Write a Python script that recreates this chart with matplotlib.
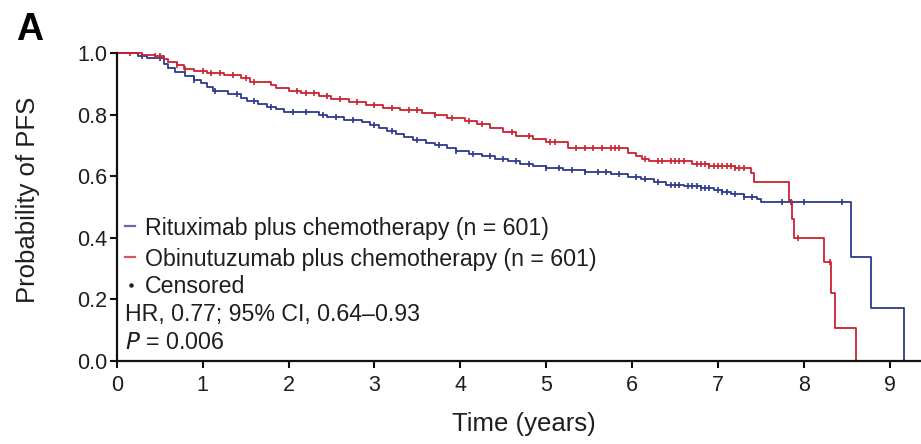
import numpy as np
import matplotlib
matplotlib.use("Agg")
import matplotlib.pyplot as plt

plt.rcParams["font.family"] = ["Liberation Sans", "DejaVu Sans"]

# Kaplan-Meier step knots: time (years) and survival after each drop
rit_time = [0, 0.25, 0.35, 0.55, 0.6, 0.68, 0.8, 0.9, 0.98, 1.05, 1.12, 1.3, 1.45,
            1.52, 1.65, 1.75, 1.85, 1.95, 2.35, 2.45, 2.65, 2.85, 2.95, 3.05, 3.15,
            3.25, 3.35, 3.45, 3.6, 3.7, 3.85, 3.95, 4.1, 4.25, 4.4, 4.55, 4.7, 4.85,
            5.0, 5.2, 5.45, 5.75, 5.95, 6.1, 6.25, 6.4, 6.6, 6.8, 6.95, 7.05, 7.15,
            7.3, 7.45, 7.5, 8.55, 8.78, 9.17]
rit_surv = [1.0, 0.99, 0.984, 0.965, 0.951, 0.939, 0.925, 0.912, 0.902, 0.89, 0.876,
            0.866, 0.855, 0.845, 0.835, 0.826, 0.817, 0.809, 0.800, 0.793, 0.784,
            0.775, 0.766, 0.758, 0.748, 0.738, 0.726, 0.717, 0.708, 0.700, 0.690,
            0.681, 0.673, 0.665, 0.656, 0.648, 0.640, 0.632, 0.627, 0.620, 0.613,
            0.606, 0.598, 0.590, 0.582, 0.573, 0.567, 0.562, 0.555, 0.548, 0.542,
            0.533, 0.525, 0.517, 0.339, 0.172, 0.0]

obi_time = [0, 0.3, 0.45, 0.55, 0.6, 0.7, 0.78, 0.9, 1.05, 1.25, 1.45, 1.55, 1.8,
            1.85, 2.0, 2.15, 2.35, 2.5, 2.7, 2.9, 3.1, 3.3, 3.55, 3.7, 3.85, 4.05,
            4.2, 4.35, 4.5, 4.65, 4.85, 5.0, 5.25, 5.95, 6.05, 6.12, 6.2, 6.7, 6.9,
            7.2, 7.38, 7.42, 7.83, 7.86, 7.89, 8.23, 8.32, 8.36, 8.61]
obi_surv = [1.0, 0.995, 0.99, 0.98, 0.972, 0.96, 0.948, 0.94, 0.935, 0.928, 0.918,
            0.907, 0.897, 0.886, 0.878, 0.870, 0.860, 0.850, 0.840, 0.830, 0.822,
            0.815, 0.806, 0.798, 0.788, 0.780, 0.770, 0.757, 0.745, 0.730, 0.720,
            0.710, 0.691, 0.675, 0.665, 0.656, 0.648, 0.640, 0.633, 0.626, 0.610,
            0.581, 0.52, 0.46, 0.40, 0.322, 0.22, 0.107, 0.0]

# censoring times
rit_cens = [0.3, 0.5, 0.9, 1.15, 1.4, 1.6, 1.8, 2.05, 2.2, 2.4, 2.55, 2.75, 3.0, 3.2,
            3.5, 3.75, 3.95, 4.15, 4.35, 4.5, 4.65, 4.8, 5.0, 5.15, 5.3, 5.45, 5.6,
            5.7, 5.85, 6.05, 6.15, 6.3, 6.45, 6.5, 6.55, 6.65, 6.7, 6.75, 6.8, 6.85,
            6.9, 7.0, 7.05, 7.1, 7.2, 7.3, 7.4, 7.75, 7.85, 8.0, 8.44]
obi_cens = [0.15, 0.45, 0.5, 0.7, 0.8, 1.0, 1.1, 1.2, 1.35, 1.5, 1.6, 2.1, 2.2, 2.3,
            2.45, 2.6, 2.8, 3.0, 3.2, 3.4, 3.5, 3.7, 3.9, 4.1, 4.25, 4.6, 4.8, 5.05,
            5.1, 5.35, 5.45, 5.55, 5.65, 5.75, 5.8, 5.85, 6.15, 6.3, 6.35, 6.45, 6.5,
            6.55, 6.6, 6.75, 6.8, 6.85, 6.9, 6.95, 7.0, 7.05, 7.1, 7.15, 7.2, 7.25,
            7.3, 7.93, 8.3]

arm_labels = ["Rituximab plus chemotherapy (n = 601)",
              "Obinutuzumab plus chemotherapy (n = 601)"]
hr_text = "HR, 0.77; 95% CI, 0.64\u20130.93"
p_text = "$P$ = 0.006"

blue = "#2b3a8c"
red = "#c9222f"
text_col = "#1e1e1e"

W, H = 921, 444


def surv_at(times, surv, t):
    idx = np.searchsorted(times, t, side="right") - 1
    return np.asarray(surv)[idx]


def fx(px):
    return px / W


def fy(py):
    return 1 - py / H


fig = plt.figure(figsize=(W / 100, H / 100), dpi=100)
ax = fig.add_axes([fx(116.7), fy(361), 1 - fx(116.7), 308 / H])

for times, surv, cens, col in [(rit_time, rit_surv, rit_cens, blue),
                               (obi_time, obi_surv, obi_cens, red)]:
    ax.step(times, surv, where="post", color=col, lw=1.3, clip_on=False)
    ax.plot(cens, surv_at(times, surv, cens), ls="none", marker="|",
            ms=4, mew=1.2, color=col)

ax.set_xlim(0, (W - 116.7) / 85.9)
ax.set_ylim(0, 1.0)
ax.set_xticks(range(0, 10))
ax.set_yticks([0, 0.2, 0.4, 0.6, 0.8, 1.0])
ax.set_yticklabels(["0.0", "0.2", "0.4", "0.6", "0.8", "1.0"])
ax.tick_params(direction="out", length=5, width=1.5, labelsize=15.5,
               colors="#111111", labelcolor=text_col, pad=2)
ax.tick_params(axis="x", pad=5)
for s in ["top", "right"]:
    ax.spines[s].set_visible(False)
for s in ["left", "bottom"]:
    ax.spines[s].set_linewidth(1.6)
    ax.spines[s].set_color("#111111")

ax.set_xlabel("Time (years)", fontsize=18.5, color=text_col, va="top")
ax.xaxis.set_label_coords(0.506, -0.166)
ax.set_ylabel("Probability of PFS", fontsize=18.5, color=text_col, va="center")
ax.yaxis.set_label_coords(-0.1103, 0.523)

# legend block drawn by hand: short coloured dashes and text rows
fs = 16.7
for col, label, py in [(blue, arm_labels[0], 235), (red, arm_labels[1], 266)]:
    fig.add_artist(plt.Line2D([fx(125), fx(135)], [fy(py - 9), fy(py - 9)],
                              color=col, lw=1.6, alpha=0.75))
    fig.text(fx(145), fy(py), label, fontsize=fs, color=text_col,
             ha="left", va="baseline")
fig.add_artist(plt.Line2D([fx(130.5)], [fy(285)], ls="none", marker="o",
                          ms=2.2, color=text_col))
fig.text(fx(145), fy(293), "Censored", fontsize=fs, color=text_col,
         ha="left", va="baseline")
fig.text(fx(125), fy(321), hr_text, fontsize=fs, color=text_col,
         ha="left", va="baseline")
fig.text(fx(125), fy(349), p_text, fontsize=fs, color=text_col,
         ha="left", va="baseline")

fig.text(fx(16), fy(40), "A", fontsize=27, fontweight="bold",
         color="black", ha="left", va="baseline")

fig.savefig("out.png", dpi=100)
